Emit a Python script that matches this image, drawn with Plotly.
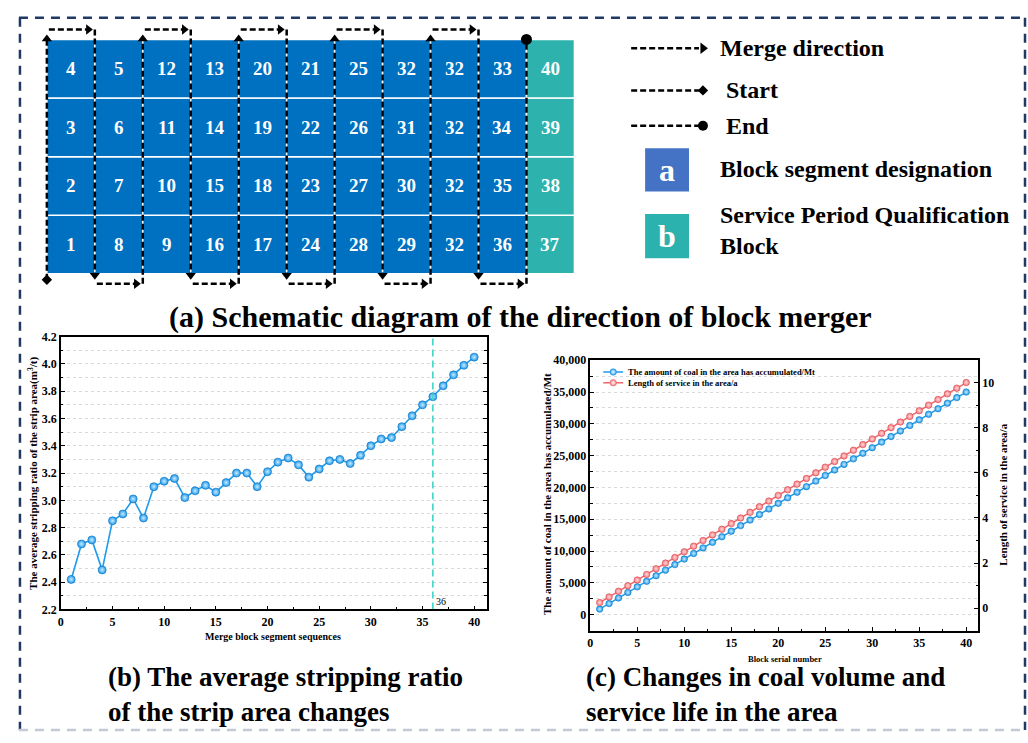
import plotly.graph_objects as go

W, H = 1028, 743
SERIF = "Liberation Serif"

# ---------------- (a) block layout ----------------
# each column lists the block numbers from the bottom row to the top row
block_columns = [
    [1, 2, 3, 4],
    [8, 7, 6, 5],
    [9, 10, 11, 12],
    [16, 15, 14, 13],
    [17, 18, 19, 20],
    [24, 23, 22, 21],
    [28, 27, 26, 25],
    [29, 30, 31, 32],
    [32, 32, 32, 32],
    [36, 35, 34, 33],
    [37, 38, 39, 40],
]
column_type = ["a"] * 10 + ["b"]

line_key_labels = ["Merge direction", "Start", "End"]
box_key_letters = ["a", "b"]
box_key_labels = ["Block segment designation", "Service Period Qualification<br>Block"]

# ---------------- (b) average stripping ratio ----------------
merge_seq = list(range(1, 41))
strip_ratio = [2.42, 2.68, 2.71, 2.49, 2.85, 2.90, 3.01, 2.87, 3.10, 3.14,
               3.16, 3.02, 3.07, 3.11, 3.06, 3.13, 3.20, 3.20, 3.10, 3.21,
               3.28, 3.31, 3.26, 3.17, 3.23, 3.29, 3.30, 3.27, 3.33, 3.40,
               3.45, 3.46, 3.54, 3.62, 3.70, 3.76, 3.84, 3.92, 3.99, 4.05]
qualified_seq = 36

# ---------------- (c) coal volume and service life ----------------
block_serial = list(range(1, 41))
coal_accum = [875, 1750, 2625, 3500, 4375, 5250, 6125, 7000, 7875, 8750,
              9625, 10500, 11375, 12250, 13125, 14000, 14875, 15750, 16625, 17500,
              18375, 19250, 20125, 21000, 21875, 22750, 23625, 24500, 25375, 26250,
              27125, 28000, 28875, 29750, 30625, 31500, 32375, 33250, 34125, 35000]
service_years = [0.25, 0.5, 0.75, 1.0, 1.25, 1.5, 1.75, 2.0, 2.25, 2.5,
                 2.75, 3.0, 3.25, 3.5, 3.75, 4.0, 4.25, 4.5, 4.75, 5.0,
                 5.25, 5.5, 5.75, 6.0, 6.25, 6.5, 6.75, 7.0, 7.25, 7.5,
                 7.75, 8.0, 8.25, 8.5, 8.75, 9.0, 9.25, 9.5, 9.75, 10.0]
coal_name = "The amount of coal in the area has accumulated/Mt"
service_name = "Length of service in the area/a"

# ---------------- styling ----------------
CELL_COLORS = {"a": "#0070C0", "b": "#2DB2AE"}
KEY_COLORS = {"a": "#4472C4", "b": "#2BB1AE"}
BLUE = "#1E9BEA"
RED = "#F0666B"
NAVY = "#203864"
PATH_DASH = "6px,3px"

fig = go.Figure()
shapes, annotations = [], []


def canvas_text(x, y, text, size, color="black", xanchor="center", yanchor="middle", angle=0):
    annotations.append(dict(
        x=x, y=y, xref="x3", yref="y3", text=text, showarrow=False,
        font=dict(family=SERIF, size=size, color=color, weight="bold"),
        xanchor=xanchor, yanchor=yanchor, textangle=angle, align="left"))


def canvas_line(xs, ys, width=2.5, dash=PATH_DASH, color="black"):
    fig.add_trace(go.Scatter(x=xs, y=ys, xaxis="x3", yaxis="y3", mode="lines",
                             line=dict(color=color, width=width, dash=dash),
                             hoverinfo="skip", showlegend=False))


def canvas_marker(x, y, symbol, size, color="black"):
    fig.add_trace(go.Scatter(x=[x], y=[y], xaxis="x3", yaxis="y3", mode="markers",
                             marker=dict(symbol=symbol, size=size, color=color,
                                         line=dict(width=0)),
                             hoverinfo="skip", showlegend=False))


# ---------------- (a) grid of blocks ----------------
GX0, GX_BLUE_END, GY0, GY1 = 44, 525, 33, 272
n_blue = column_type.count("a")
col_w = (GX_BLUE_END - GX0) / n_blue
row_h = (GY1 - GY0) / len(block_columns[0])

for c, col in enumerate(block_columns):
    x0 = GX0 + c * col_w
    for r, num in enumerate(col):
        y1 = GY1 - r * row_h
        shapes.append(dict(type="rect", xref="x3", yref="y3", x0=x0, x1=x0 + col_w,
                           y0=y1 - row_h, y1=y1, fillcolor=CELL_COLORS[column_type[c]],
                           line=dict(color="white", width=1.5), layer="below"))
        canvas_text(x0 + col_w / 2, y1 - row_h / 2, str(num), 19, color="white")

# snake-shaped merge path along the column boundaries
TIP_TOP, TIP_BOT = 28, 278
CONN_TOP, CONN_BOT = 23, 282
AR = 9  # arrowhead marker size
for k in range(n_blue + 1):
    x = GX0 + k * col_w
    if k == n_blue:
        canvas_line([x, x], [CONN_BOT, GY0])
        canvas_marker(x, GY0, "circle", 11)
        continue
    if k % 2 == 0:
        start = TIP_BOT if k == 0 else CONN_BOT
        canvas_line([x, x], [start, TIP_TOP + 3])
        canvas_marker(x, TIP_TOP + AR / 2, "triangle-up", AR)
        # connector across the top to the next boundary
        canvas_line([x + 2, x + col_w - 6], [CONN_TOP, CONN_TOP])
        canvas_marker(x + col_w - 2 - AR / 2, CONN_TOP, "triangle-right", AR)
    else:
        canvas_line([x, x], [CONN_TOP, TIP_BOT - 3])
        canvas_marker(x, TIP_BOT - AR / 2, "triangle-down", AR)
        canvas_line([x + 2, x + col_w - 6], [CONN_BOT, CONN_BOT])
        canvas_marker(x + col_w - 2 - AR / 2, CONN_BOT, "triangle-right", AR)
canvas_marker(GX0, TIP_BOT, "diamond", 8)

# key for the schematic
KEY_X0, KEY_X1 = 630, 698
key_rows = [42, 85, 121]
key_text_x = [717, 723, 723]
key_symbols = ["triangle-right", "diamond", "circle"]
key_sizes = [10, 8, 10]
for y, label, tx, sym, sz in zip(key_rows, line_key_labels, key_text_x, key_symbols, key_sizes):
    canvas_line([KEY_X0, KEY_X1], [y, y], width=2.5, dash="6px,3px")
    canvas_marker(KEY_X1 + 4, y, sym, sz)
    canvas_text(tx, y, label, 24, xanchor="left")

box_rows = [(144, 188), (211, 256)]
box_text_y = [165, 228]
for (y0, y1), letter, label, ty in zip(box_rows, box_key_letters, box_key_labels, box_text_y):
    shapes.append(dict(type="rect", xref="x3", yref="y3", x0=644, x1=688, y0=y0, y1=y1,
                       fillcolor=KEY_COLORS[letter], line=dict(width=0), layer="below"))
    canvas_text(666, (y0 + y1) / 2, letter, 32, color="white")
    canvas_text(717, ty, label, 24, xanchor="left")

canvas_text(519, 316, "(a) Schematic diagram of the direction of block merger", 30)

# ---------------- (b) chart ----------------
fig.add_trace(go.Scatter(
    x=merge_seq, y=strip_ratio, xaxis="x", yaxis="y", mode="lines+markers",
    line=dict(color=BLUE, width=1.6),
    marker=dict(size=8, color=BLUE, gradient=dict(type="radial", color="#C9EBFF"),
                line=dict(color="#1479C8", width=0.7)),
    showlegend=False, hoverinfo="skip"))
fig.add_trace(go.Scatter(
    x=[qualified_seq, qualified_seq], y=[2.2, 4.2], xaxis="x", yaxis="y", mode="lines",
    line=dict(color="#3FD5C6", width=1.6, dash="7px,4px"),
    showlegend=False, hoverinfo="skip"))
annotations.append(dict(x=qualified_seq, y=2.2, xref="x", yref="y", text=str(qualified_seq),
                        showarrow=False, xanchor="left", yanchor="bottom", xshift=1,
                        font=dict(family=SERIF, size=10, color="black")))

# ---------------- (c) chart ----------------
fig.add_trace(go.Scatter(
    x=block_serial, y=coal_accum, xaxis="x2", yaxis="y2", mode="lines+markers",
    name=coal_name, line=dict(color=BLUE, width=1.5),
    marker=dict(size=6.5, color=BLUE, gradient=dict(type="radial", color="#C9EBFF"),
                line=dict(color="#1479C8", width=0.6)),
    showlegend=False, hoverinfo="skip"))
fig.add_trace(go.Scatter(
    x=block_serial, y=service_years, xaxis="x2", yaxis="y4", mode="lines+markers",
    name=service_name, line=dict(color=RED, width=1.5),
    marker=dict(size=6.5, color="#F37A7E", gradient=dict(type="radial", color="#FFDADC"),
                line=dict(color="#D9454B", width=0.6)),
    showlegend=False, hoverinfo="skip"))

# in-plot key for (c)
for y, name, color, mcol in [(372, coal_name, BLUE, BLUE), (383, service_name, RED, "#F37A7E")]:
    canvas_line([602, 622], [y, y], width=1.5, dash="solid", color=color)
    fig.add_trace(go.Scatter(x=[612], y=[y], xaxis="x3", yaxis="y3", mode="markers",
                             marker=dict(size=6.5, color=mcol,
                                         gradient=dict(type="radial", color="#FFFFFF"),
                                         line=dict(width=0.6, color=color)),
                             hoverinfo="skip", showlegend=False))
    canvas_text(625, y, name, 8.5, xanchor="left")

# axis titles and subtitles
canvas_text(30, 475, "The average stripping ratio of the strip area(m<sup>3</sup>/t)", 11, angle=-90)
canvas_text(271, 642, "Merge block segment sequences", 10)
canvas_text(545, 496, coal_name, 11, angle=-90)
canvas_text(1003, 497, service_name, 11, angle=-90)
canvas_text(784, 665, "Block serial number", 8.5)
canvas_text(283, 701, "(b) The average stripping ratio<br>of the strip area changes", 27)
canvas_text(765, 701, "(c) Changes in coal volume and<br>service life in the area", 27)

# dashed frame around the whole figure
for (x0, y0, x1, y1, col) in [(16, 11, 1025, 11, NAVY), (17, 11, 17, 737, NAVY),
                              (1025, 11, 1025, 737, NAVY), (16, 737, 1025, 737, "#C5CAD2")]:
    shapes.append(dict(type="line", xref="x3", yref="y3", x0=x0, y0=y0, x1=x1, y1=y1,
                       line=dict(color=col, width=2.5, dash="9px,7px"), layer="above"))

tick_font = dict(family=SERIF, size=12, color="black", weight="bold")
grid_minor = dict(showgrid=True, gridcolor="#D9D9D9", griddash="dot", gridwidth=1)
axis_common = dict(showline=True, linecolor="black", linewidth=1.5, ticks="inside",
                   ticklen=4, tickwidth=1.2, tickcolor="black", tickfont=tick_font,
                   showgrid=False, zeroline=False, fixedrange=True)

fig.update_layout(
    width=W, height=H, margin=dict(l=0, r=0, t=0, b=0),
    paper_bgcolor="white", plot_bgcolor="rgba(0,0,0,0)",
    font=dict(family=SERIF),
    xaxis=dict(domain=[58 / W, 485 / W], anchor="y", range=[0, 41.2],
               tickvals=[0, 5, 10, 15, 20, 25, 30, 35, 40], mirror=True,
               minor=dict(dtick=2.5, tick0=0, ticks="inside", ticklen=2.5, tickcolor="black"),
               **axis_common),
    yaxis=dict(domain=[1 - 614 / H, 1 - 336 / H], anchor="x", range=[2.2, 4.2],
               tickvals=[2.2, 2.4, 2.6, 2.8, 3.0, 3.2, 3.4, 3.6, 3.8, 4.0, 4.2],
               tickformat=".1f", mirror="ticks",
               minor=dict(dtick=0.1, tick0=2.2, ticks="inside", ticklen=2.5,
                          tickcolor="black", **grid_minor),
               **axis_common),
    xaxis2=dict(domain=[589 / W, 978 / W], anchor="y2", range=[0, 41.27],
                tickvals=[0, 5, 10, 15, 20, 25, 30, 35, 40], mirror=True,
                minor=dict(dtick=2.5, tick0=0, ticks="inside", ticklen=2.5, tickcolor="black"),
                **axis_common),
    yaxis2=dict(domain=[1 - 636 / H, 1 - 360 / H], anchor="x2", range=[-2570, 40000],
                tickvals=[0, 5000, 10000, 15000, 20000, 25000, 30000, 35000, 40000],
                tickformat=",",
                minor=dict(dtick=2500, tick0=0, ticks="inside", ticklen=2.5,
                           tickcolor="black", **grid_minor),
                **axis_common),
    yaxis4=dict(overlaying="y2", anchor="x2", side="right", range=[-1.01, 10.99],
                tickvals=[0, 2, 4, 6, 8, 10],
                minor=dict(dtick=1, tick0=0, ticks="inside", ticklen=2.5, tickcolor="black"),
                **axis_common),
    xaxis3=dict(domain=[0, 1], anchor="y3", range=[0, W], visible=False, fixedrange=True),
    yaxis3=dict(domain=[0, 1], anchor="x3", range=[H, 0], visible=False, fixedrange=True),
    shapes=shapes, annotations=annotations, showlegend=False,
)

fig.write_html("out.html")
